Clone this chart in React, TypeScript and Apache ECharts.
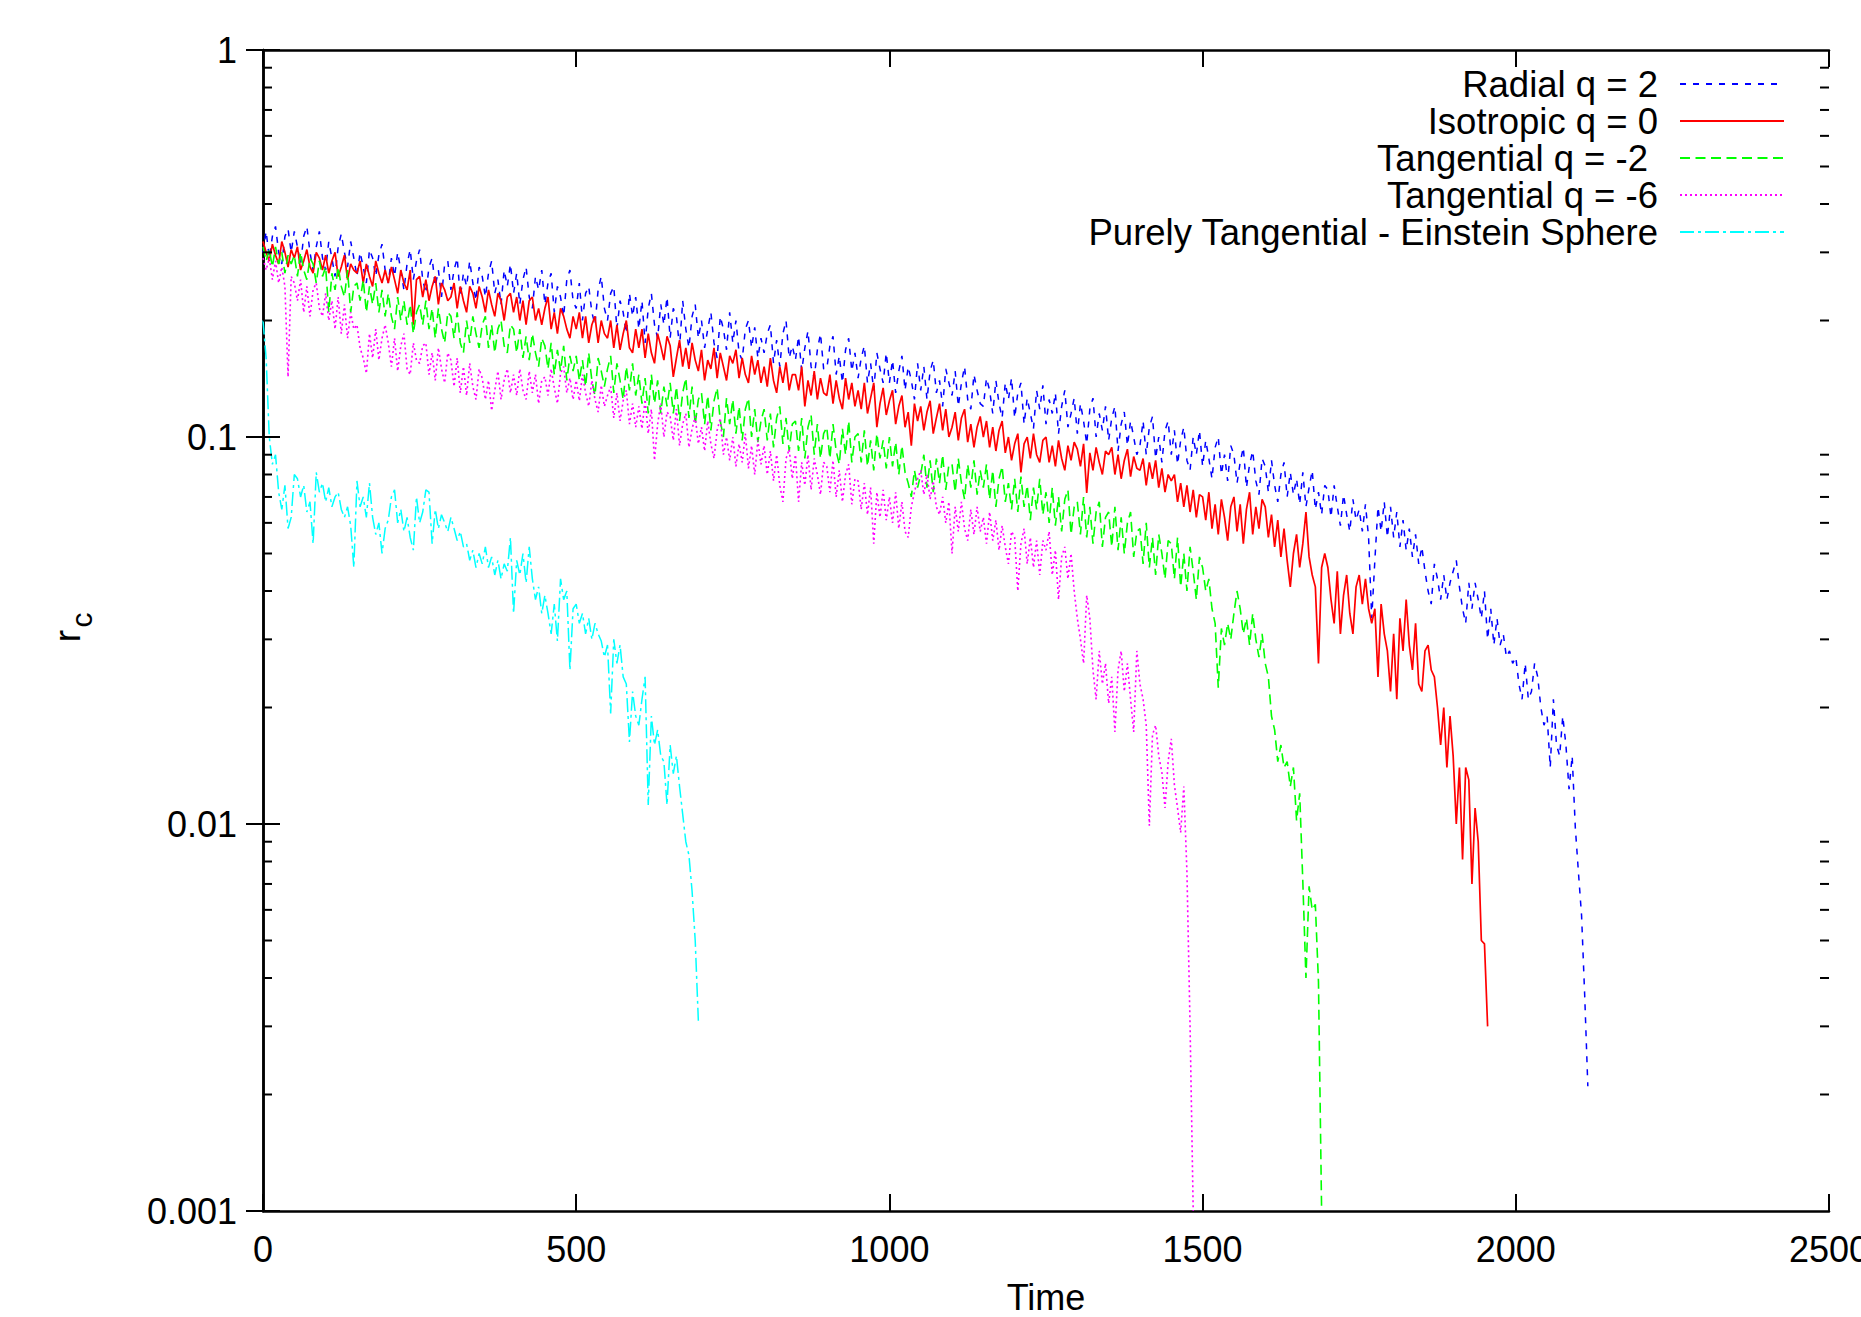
import React, { useEffect, useRef } from "react";
import * as echarts from "echarts";

// time step between stored samples (values below are at t = 0, 5, 10, ...)
const TIME_STEP = 5;

const seriesNames = [
  "Radial q = 2",
  "Isotropic q = 0",
  "Tangential q = -2",
  "Tangential q = -6",
  "Purely Tangential - Einstein Sphere",
];

const xTickLabels = ["0", "500", "1000", "1500", "2000", "2500"];
const yTickLabels = ["0.001", "0.01", "0.1", "1"];

// Radial q = 2
const radialQ2 = [
  0.30, 0.34, 0.29, 0.33, 0.35, 0.30, 0.28, 0.33, 0.345, 0.30,
  0.34, 0.31, 0.28, 0.33, 0.35, 0.30, 0.27, 0.31, 0.34, 0.29,
  0.27, 0.32, 0.29, 0.26, 0.31, 0.335, 0.30, 0.275, 0.32, 0.29,
  0.26, 0.30, 0.275, 0.25, 0.305, 0.29, 0.26, 0.295, 0.315, 0.27,
  0.25, 0.29, 0.26, 0.30, 0.27, 0.24, 0.28, 0.305, 0.255, 0.285,
  0.305, 0.255, 0.235, 0.275, 0.29, 0.245, 0.27, 0.23, 0.28, 0.285,
  0.24, 0.27, 0.29, 0.23, 0.265, 0.245, 0.285, 0.25, 0.225, 0.275,
  0.26, 0.23, 0.265, 0.285, 0.235, 0.255, 0.22, 0.27, 0.245, 0.28,
  0.235, 0.265, 0.22, 0.255, 0.275, 0.23, 0.215, 0.26, 0.24, 0.27,
  0.22, 0.25, 0.265, 0.21, 0.245, 0.23, 0.205, 0.255, 0.27, 0.225,
  0.215, 0.25, 0.2, 0.235, 0.245, 0.21, 0.195, 0.24, 0.26, 0.215,
  0.2, 0.235, 0.245, 0.19, 0.225, 0.21, 0.185, 0.235, 0.205, 0.23,
  0.19, 0.225, 0.175, 0.215, 0.235, 0.195, 0.18, 0.22, 0.195, 0.23,
  0.18, 0.215, 0.205, 0.17, 0.225, 0.19, 0.17, 0.205, 0.22, 0.18,
  0.2, 0.17, 0.19, 0.21, 0.175, 0.16, 0.205, 0.19, 0.168, 0.21,
  0.175, 0.2, 0.165, 0.158, 0.19, 0.2, 0.17, 0.192, 0.16, 0.18,
  0.165, 0.185, 0.195, 0.155, 0.178, 0.152, 0.185, 0.2, 0.16, 0.172,
  0.158, 0.182, 0.148, 0.17, 0.188, 0.152, 0.142, 0.168, 0.185, 0.15,
  0.15, 0.172, 0.182, 0.145, 0.162, 0.138, 0.168, 0.18, 0.148, 0.165,
  0.142, 0.16, 0.172, 0.138, 0.155, 0.132, 0.165, 0.15, 0.138, 0.165,
  0.138, 0.158, 0.13, 0.148, 0.162, 0.132, 0.152, 0.14, 0.125, 0.155,
  0.132, 0.152, 0.125, 0.148, 0.158, 0.13, 0.14, 0.12, 0.15, 0.138,
  0.128, 0.148, 0.12, 0.138, 0.152, 0.125, 0.118, 0.145, 0.132, 0.122,
  0.12, 0.142, 0.132, 0.115, 0.14, 0.122, 0.112, 0.138, 0.125, 0.142,
  0.112, 0.13, 0.138, 0.108, 0.126, 0.115, 0.105, 0.132, 0.118, 0.136,
  0.108, 0.125, 0.115, 0.13, 0.102, 0.12, 0.132, 0.106, 0.115, 0.126,
  0.102, 0.122, 0.11, 0.096, 0.118, 0.126, 0.1, 0.115, 0.104, 0.12,
  0.098, 0.112, 0.12, 0.092, 0.108, 0.116, 0.095, 0.11, 0.1, 0.09,
  0.095, 0.11, 0.09, 0.106, 0.113, 0.088, 0.1, 0.086, 0.104, 0.11,
  0.09, 0.104, 0.085, 0.098, 0.106, 0.087, 0.082, 0.1, 0.09, 0.104,
  0.084, 0.098, 0.088, 0.078, 0.094, 0.1, 0.08, 0.09, 0.077, 0.095,
  0.09, 0.076, 0.086, 0.094, 0.074, 0.085, 0.092, 0.077, 0.071, 0.088,
  0.084, 0.072, 0.087, 0.075, 0.068, 0.08, 0.086, 0.07, 0.081, 0.071,
  0.078, 0.067, 0.081, 0.066, 0.074, 0.082, 0.065, 0.072, 0.063, 0.075,
  0.073, 0.062, 0.075, 0.066, 0.059, 0.071, 0.063, 0.057, 0.069, 0.061,
  0.065, 0.057, 0.067, 0.055, 0.034, 0.048, 0.066, 0.057, 0.068, 0.055,
  0.066, 0.055, 0.064, 0.052, 0.061, 0.051, 0.058, 0.049, 0.056, 0.047,
  0.052, 0.045, 0.04, 0.037, 0.047, 0.043, 0.038, 0.044, 0.038, 0.042,
  0.045, 0.048, 0.041, 0.036, 0.033, 0.042, 0.036, 0.042, 0.038, 0.034,
  0.04, 0.03, 0.036, 0.029, 0.034, 0.029, 0.031, 0.027, 0.028, 0.026,
  0.027, 0.023, 0.021, 0.026, 0.021, 0.022, 0.026, 0.024, 0.02, 0.018,
  0.019, 0.014, 0.021, 0.016, 0.015, 0.019, 0.016, 0.0123, 0.015, 0.0098,
  0.0075, 0.0058, 0.0036, 0.0021,
];

// Isotropic q = 0
const isotropicQ0 = [
  0.32, 0.30, 0.285, 0.315, 0.295, 0.28, 0.32, 0.30, 0.275, 0.305,
  0.29, 0.31, 0.27, 0.285, 0.305, 0.275, 0.265, 0.30, 0.29, 0.27,
  0.295, 0.265, 0.285, 0.30, 0.26, 0.275, 0.295, 0.255, 0.28, 0.27,
  0.265, 0.285, 0.25, 0.28, 0.26, 0.245, 0.285, 0.265, 0.25, 0.27,
  0.25, 0.275, 0.255, 0.235, 0.27, 0.25, 0.24, 0.27, 0.195, 0.255,
  0.26, 0.23, 0.255, 0.225, 0.245, 0.26, 0.22, 0.25, 0.24, 0.225,
  0.23, 0.25, 0.215, 0.245, 0.225, 0.21, 0.245, 0.235, 0.215, 0.245,
  0.23, 0.21, 0.24, 0.22, 0.205, 0.235, 0.225, 0.2, 0.23, 0.235,
  0.21, 0.23, 0.2, 0.225, 0.195, 0.225, 0.23, 0.2, 0.215, 0.195,
  0.215, 0.23, 0.19, 0.21, 0.185, 0.215, 0.205, 0.19, 0.18, 0.205,
  0.19, 0.21, 0.18, 0.205, 0.175, 0.195, 0.205, 0.175, 0.2, 0.185,
  0.18, 0.2, 0.17, 0.195, 0.168, 0.185, 0.2, 0.17, 0.165, 0.19,
  0.17, 0.19, 0.16, 0.185, 0.165, 0.155, 0.185, 0.172, 0.158, 0.182,
  0.172, 0.143, 0.16, 0.178, 0.152, 0.17, 0.15, 0.175, 0.158, 0.148,
  0.168, 0.14, 0.158, 0.15, 0.17, 0.142, 0.165, 0.152, 0.14, 0.162,
  0.155, 0.168, 0.142, 0.16, 0.145, 0.138, 0.162, 0.145, 0.158, 0.138,
  0.152, 0.135, 0.16, 0.14, 0.13, 0.152, 0.138, 0.156, 0.132, 0.145,
  0.145, 0.132, 0.152, 0.12, 0.14, 0.128, 0.148, 0.125, 0.142, 0.13,
  0.128, 0.145, 0.122, 0.14, 0.126, 0.118, 0.142, 0.125, 0.138, 0.12,
  0.132, 0.118, 0.138, 0.115, 0.126, 0.138, 0.106, 0.122, 0.134, 0.114,
  0.124, 0.132, 0.108, 0.12, 0.128, 0.106, 0.116, 0.095, 0.122, 0.11,
  0.12, 0.104, 0.116, 0.124, 0.102, 0.112, 0.122, 0.104, 0.118, 0.1,
  0.106, 0.116, 0.098, 0.112, 0.118, 0.097, 0.108, 0.094, 0.106, 0.113,
  0.1, 0.11, 0.094, 0.106, 0.092, 0.104, 0.11, 0.091, 0.1, 0.087,
  0.096, 0.102, 0.081, 0.096, 0.1, 0.088, 0.102, 0.09, 0.086, 0.098,
  0.1, 0.086, 0.095, 0.084, 0.098, 0.088, 0.082, 0.095, 0.087, 0.097,
  0.093, 0.084, 0.096, 0.0717, 0.091, 0.082, 0.094, 0.086, 0.08, 0.092,
  0.09, 0.094, 0.08, 0.09, 0.078, 0.087, 0.093, 0.079, 0.089, 0.083,
  0.082, 0.088, 0.075, 0.086, 0.078, 0.087, 0.074, 0.083, 0.072, 0.08,
  0.077, 0.08, 0.068, 0.076, 0.066, 0.075, 0.064, 0.073, 0.062, 0.071,
  0.07, 0.061, 0.072, 0.058, 0.067, 0.056, 0.069, 0.062, 0.054, 0.066,
  0.07, 0.057, 0.067, 0.053, 0.065, 0.072, 0.056, 0.066, 0.058, 0.069,
  0.066, 0.055, 0.063, 0.052, 0.061, 0.049, 0.058, 0.048, 0.041, 0.05,
  0.056, 0.046, 0.053, 0.064, 0.049, 0.044, 0.041, 0.026, 0.046, 0.05,
  0.046, 0.038, 0.033, 0.045, 0.031, 0.039, 0.044, 0.035, 0.031, 0.041,
  0.044, 0.037, 0.043, 0.036, 0.033, 0.036, 0.024, 0.037, 0.031, 0.028,
  0.022, 0.031, 0.021, 0.034, 0.028, 0.038, 0.029, 0.025, 0.033, 0.023,
  0.022, 0.028, 0.029, 0.025, 0.024, 0.02, 0.016, 0.02, 0.014, 0.019,
  0.015, 0.01, 0.014, 0.0081, 0.014, 0.013, 0.007, 0.011, 0.009, 0.005,
  0.0049, 0.003,
];

// Tangential q = -2
const tangentialQm2 = [
  0.31, 0.285, 0.305, 0.275, 0.31, 0.28, 0.30, 0.265, 0.295, 0.28,
  0.295, 0.26, 0.30, 0.27, 0.255, 0.29, 0.28, 0.25, 0.285, 0.26,
  0.275, 0.21, 0.265, 0.24, 0.275, 0.245, 0.23, 0.27, 0.21, 0.245,
  0.25, 0.225, 0.255, 0.21, 0.245, 0.22, 0.25, 0.21, 0.24, 0.205,
  0.235, 0.205, 0.19, 0.23, 0.2, 0.225, 0.195, 0.22, 0.185, 0.21,
  0.22, 0.195, 0.225, 0.19, 0.215, 0.18, 0.215, 0.19, 0.175, 0.21,
  0.205, 0.18, 0.21, 0.175, 0.165, 0.2, 0.175, 0.205, 0.185, 0.17,
  0.195, 0.205, 0.17, 0.195, 0.165, 0.19, 0.2, 0.172, 0.165, 0.195,
  0.19, 0.165, 0.19, 0.16, 0.182, 0.158, 0.185, 0.165, 0.152, 0.18,
  0.172, 0.15, 0.175, 0.145, 0.168, 0.148, 0.172, 0.14, 0.162, 0.148,
  0.162, 0.14, 0.158, 0.135, 0.165, 0.14, 0.128, 0.16, 0.148, 0.135,
  0.15, 0.162, 0.13, 0.155, 0.14, 0.125, 0.152, 0.132, 0.155, 0.128,
  0.145, 0.122, 0.142, 0.115, 0.145, 0.122, 0.14, 0.115, 0.135, 0.12,
  0.138, 0.115, 0.135, 0.11, 0.13, 0.142, 0.112, 0.135, 0.108, 0.125,
  0.13, 0.108, 0.128, 0.104, 0.124, 0.134, 0.11, 0.1, 0.126, 0.108,
  0.125, 0.102, 0.12, 0.098, 0.118, 0.126, 0.1, 0.118, 0.097, 0.11,
  0.118, 0.098, 0.115, 0.094, 0.112, 0.12, 0.096, 0.112, 0.092, 0.108,
  0.11, 0.092, 0.112, 0.088, 0.106, 0.114, 0.09, 0.108, 0.088, 0.102,
  0.106, 0.088, 0.108, 0.092, 0.085, 0.105, 0.09, 0.11, 0.086, 0.1,
  0.102, 0.086, 0.104, 0.084, 0.098, 0.082, 0.102, 0.088, 0.098, 0.083,
  0.1, 0.084, 0.097, 0.08, 0.095, 0.081, 0.076, 0.07, 0.082, 0.074,
  0.08, 0.09, 0.074, 0.087, 0.072, 0.088, 0.076, 0.09, 0.073, 0.085,
  0.085, 0.072, 0.088, 0.076, 0.069, 0.085, 0.074, 0.087, 0.071, 0.082,
  0.074, 0.085, 0.069, 0.082, 0.066, 0.078, 0.084, 0.068, 0.076, 0.065,
  0.078, 0.064, 0.079, 0.066, 0.075, 0.061, 0.074, 0.065, 0.078, 0.063,
  0.072, 0.06, 0.074, 0.059, 0.07, 0.057, 0.069, 0.073, 0.056, 0.066,
  0.068, 0.056, 0.07, 0.055, 0.066, 0.053, 0.064, 0.068, 0.052, 0.062,
  0.064, 0.052, 0.066, 0.051, 0.062, 0.05, 0.06, 0.064, 0.049, 0.057,
  0.058, 0.047, 0.06, 0.046, 0.055, 0.044, 0.056, 0.05, 0.043, 0.054,
  0.053, 0.043, 0.055, 0.041, 0.05, 0.04, 0.052, 0.045, 0.038, 0.049,
  0.046, 0.04, 0.043, 0.036, 0.033, 0.0225, 0.032, 0.029, 0.033, 0.03,
  0.035, 0.04, 0.036, 0.031, 0.034, 0.029, 0.035, 0.03, 0.027, 0.031,
  0.026, 0.024, 0.019, 0.0175, 0.0145, 0.016, 0.014, 0.0145, 0.0125, 0.014,
  0.0102, 0.012, 0.0071, 0.004, 0.0069, 0.006, 0.0062, 0.0039, 0.001,
];

// Tangential q = -6
const tangentialQm6 = [
  0.29, 0.27, 0.29, 0.255, 0.285, 0.25, 0.275, 0.245, 0.143, 0.26,
  0.25, 0.225, 0.255, 0.21, 0.245, 0.205, 0.24, 0.25, 0.215, 0.205,
  0.235, 0.2, 0.225, 0.19, 0.23, 0.185, 0.22, 0.18, 0.21, 0.19,
  0.195, 0.17, 0.16, 0.146, 0.185, 0.16, 0.19, 0.158, 0.18, 0.195,
  0.175, 0.152, 0.18, 0.148, 0.172, 0.185, 0.15, 0.145, 0.175, 0.158,
  0.155, 0.172, 0.175, 0.145, 0.165, 0.14, 0.17, 0.15, 0.138, 0.165,
  0.158, 0.135, 0.16, 0.13, 0.152, 0.128, 0.155, 0.135, 0.125, 0.15,
  0.142, 0.125, 0.14, 0.117, 0.132, 0.148, 0.125, 0.14, 0.15, 0.13,
  0.145, 0.128, 0.15, 0.132, 0.125, 0.148, 0.13, 0.145, 0.122, 0.14,
  0.143, 0.128, 0.15, 0.134, 0.122, 0.146, 0.152, 0.13, 0.142, 0.125,
  0.14, 0.124, 0.145, 0.13, 0.12, 0.14, 0.125, 0.116, 0.136, 0.12,
  0.128, 0.135, 0.112, 0.13, 0.11, 0.124, 0.132, 0.108, 0.122, 0.106,
  0.12, 0.105, 0.125, 0.102, 0.118, 0.087, 0.108, 0.122, 0.1, 0.116,
  0.113, 0.098, 0.118, 0.095, 0.108, 0.115, 0.094, 0.105, 0.113, 0.096,
  0.106, 0.092, 0.11, 0.096, 0.088, 0.104, 0.112, 0.09, 0.1, 0.087,
  0.1, 0.084, 0.096, 0.086, 0.102, 0.083, 0.095, 0.08, 0.098, 0.085,
  0.095, 0.08, 0.092, 0.077, 0.09, 0.075, 0.068, 0.088, 0.093, 0.078,
  0.09, 0.068, 0.086, 0.075, 0.09, 0.073, 0.088, 0.08, 0.071, 0.086,
  0.084, 0.072, 0.087, 0.07, 0.082, 0.068, 0.08, 0.085, 0.067, 0.078,
  0.077, 0.065, 0.076, 0.063, 0.074, 0.053, 0.072, 0.062, 0.073, 0.061,
  0.07, 0.06, 0.072, 0.058, 0.068, 0.057, 0.055, 0.066, 0.072, 0.078,
  0.082, 0.071, 0.08, 0.069, 0.077, 0.066, 0.063, 0.07, 0.06, 0.068,
  0.05, 0.066, 0.057, 0.068, 0.058, 0.054, 0.065, 0.056, 0.066, 0.057,
  0.062, 0.053, 0.064, 0.054, 0.061, 0.051, 0.059, 0.052, 0.047, 0.057,
  0.055, 0.04, 0.053, 0.058, 0.047, 0.055, 0.046, 0.054, 0.044, 0.054,
  0.051, 0.057, 0.044, 0.051, 0.038, 0.049, 0.052, 0.043, 0.05, 0.04,
  0.034, 0.03, 0.026, 0.039, 0.034, 0.025, 0.021, 0.028, 0.023, 0.026,
  0.0205, 0.024, 0.0173, 0.025, 0.028, 0.022, 0.026, 0.021, 0.0173, 0.028,
  0.023, 0.021, 0.018, 0.0099, 0.017, 0.018, 0.015, 0.0136, 0.011, 0.0145,
  0.0166, 0.0126, 0.011, 0.0095, 0.0125, 0.0075, 0.003, 0.001,
];

// Purely Tangential - Einstein Sphere
const einsteinSphere = [
  0.2, 0.16, 0.1, 0.085, 0.09, 0.072, 0.065, 0.075, 0.058, 0.062,
  0.08, 0.078, 0.07, 0.075, 0.064, 0.068, 0.053, 0.081, 0.072, 0.076,
  0.068, 0.074, 0.066, 0.07, 0.072, 0.065, 0.062, 0.066, 0.059, 0.046,
  0.077, 0.066, 0.07, 0.062, 0.076, 0.062, 0.056, 0.06, 0.05, 0.058,
  0.061, 0.07, 0.073, 0.06, 0.065, 0.057, 0.062, 0.055, 0.051, 0.07,
  0.06, 0.064, 0.073, 0.072, 0.053, 0.065, 0.058, 0.063, 0.06, 0.057,
  0.062, 0.058, 0.054, 0.057, 0.052, 0.053, 0.048, 0.051, 0.046, 0.05,
  0.047, 0.052, 0.046, 0.049, 0.044, 0.048, 0.043, 0.047, 0.045, 0.055,
  0.035, 0.048, 0.044, 0.05, 0.042, 0.052, 0.043, 0.038, 0.041, 0.035,
  0.039, 0.035, 0.031, 0.037, 0.0297, 0.043, 0.038, 0.04, 0.025, 0.036,
  0.037, 0.033, 0.035, 0.031, 0.034, 0.03, 0.033, 0.031, 0.0297, 0.027,
  0.029, 0.0193, 0.03, 0.026, 0.029, 0.024, 0.023, 0.0163, 0.022, 0.019,
  0.018, 0.021, 0.024, 0.0112, 0.019, 0.016, 0.0175, 0.015, 0.0145, 0.0112,
  0.016, 0.0135, 0.015, 0.0125, 0.0106, 0.009, 0.0083, 0.0067, 0.005, 0.0031,
];

const seriesValues = [radialQ2, isotropicQ0, tangentialQm2, tangentialQm6, einsteinSphere];
const seriesColors = ["#0000ff", "#ff0000", "#00ff00", "#ff00ff", "#00ffff"];
const seriesDashes: (number[] | "solid")[] = [[6, 7], "solid", [10, 5.5], [2, 3], [14, 4, 3, 4]];
const seriesWidths = [1.5, 1.7, 1.6, 1.6, 1.5];

// log-axis minor ticks (2..9 in each decade)
const minorTickValues: number[] = [];
[0.001, 0.01, 0.1].forEach((d) => {
  [2, 3, 4, 5, 6, 7, 8, 9].forEach((m) => minorTickValues.push(+(m * d).toPrecision(3)));
});

const FONT = "Liberation Sans, Arial, sans-serif";

export default function App() {
  const ref = useRef<HTMLDivElement>(null);

  useEffect(() => {
    if (!ref.current) return;
    document.documentElement.style.overflow = "hidden";
    document.body.style.overflow = "hidden";
    document.body.style.margin = "0";
    const chart = echarts.init(ref.current, undefined, { renderer: "svg" });

    const axisLine = { show: true, lineStyle: { color: "#000", width: 2.5 } };
    const axisTick = { show: true, inside: true, length: 17, lineStyle: { color: "#000", width: 2 } };

    const lineSeries = seriesValues.map((vals, si) => ({
      name: seriesNames[si],
      type: "line",
      xAxisIndex: 0,
      yAxisIndex: 0,
      data: vals.map((v, i) => [i * TIME_STEP, v]),
      showSymbol: false,
      symbol: "none",
      clip: true,
      lineStyle: { color: seriesColors[si], width: seriesWidths[si], type: seriesDashes[si] },
      itemStyle: { color: seriesColors[si] },
      z: 2 + si,
    }));

    const minorTicks = {
      type: "custom",
      coordinateSystem: "cartesian2d",
      xAxisIndex: 0,
      yAxisIndex: 0,
      silent: true,
      clip: false,
      z: 10,
      data: minorTickValues.map((v) => [0, v]),
      renderItem: (params: any, api: any) => {
        const p = api.coord([0, api.value(1)]);
        const cs = params.coordSys;
        const st = { stroke: "#000", lineWidth: 2 };
        return {
          type: "group",
          children: [
            { type: "line", shape: { x1: cs.x, y1: p[1], x2: cs.x + 9, y2: p[1] }, style: st },
            { type: "line", shape: { x1: cs.x + cs.width, y1: p[1], x2: cs.x + cs.width - 9, y2: p[1] }, style: st },
          ],
        };
      },
    };

    const legendRowsY = [84, 121, 158, 195, 232];
    const legendTextRight = [1658, 1658, 1648, 1658, 1658];
    const graphics: any[] = [];
    seriesNames.forEach((name, i) => {
      graphics.push({
        type: "text",
        x: legendTextRight[i],
        y: legendRowsY[i],
        style: {
          text: name,
          fill: "#000",
          font: `36.5px ${FONT}`,
          textAlign: "right",
          textVerticalAlign: "middle",
        },
      });
      const dash = seriesDashes[i];
      graphics.push({
        type: "line",
        shape: { x1: 1680, y1: legendRowsY[i], x2: 1784, y2: legendRowsY[i] },
        style: {
          stroke: seriesColors[i],
          lineWidth: seriesWidths[i] + 0.3,
          lineDash: dash === "solid" ? null : dash,
        },
      });
    });

    // y-axis title r_c
    graphics.push({
      type: "text",
      x: 67,
      y: 636,
      rotation: Math.PI / 2,
      style: { text: "r", fill: "#000", font: `37px ${FONT}`, textAlign: "center", textVerticalAlign: "middle" },
    });
    graphics.push({
      type: "text",
      x: 81,
      y: 620,
      rotation: Math.PI / 2,
      style: { text: "c", fill: "#000", font: `30px ${FONT}`, textAlign: "center", textVerticalAlign: "middle" },
    });

    chart.setOption({
      animation: false,
      backgroundColor: "#ffffff",
      grid: {
        left: 263,
        right: 32,
        top: 50,
        bottom: 106,
        containLabel: false,
        outerBoundsMode: "none",
      },
      xAxis: [
        {
          type: "value",
          min: 0,
          max: 2500,
          interval: 500,
          position: "bottom",
          axisLine,
          axisTick,
          splitLine: { show: false },
          axisLabel: {
            color: "#000",
            fontSize: 36,
            fontFamily: FONT,
            margin: 20,
            formatter: (v: number) => xTickLabels[Math.round(v / 500)] ?? String(v),
          },
          name: "Time",
          nameLocation: "middle",
          nameGap: 68,
          nameTextStyle: { color: "#000", fontSize: 36, fontFamily: FONT },
        },
        {
          type: "value",
          min: 0,
          max: 2500,
          interval: 500,
          position: "top",
          axisLine,
          axisTick,
          splitLine: { show: false },
          axisLabel: { show: false },
        },
      ],
      yAxis: [
        {
          type: "log",
          logBase: 10,
          min: 0.001,
          max: 1,
          position: "left",
          axisLine,
          axisTick,
          splitLine: { show: false },
          minorTick: { show: false },
          axisLabel: {
            color: "#000",
            fontSize: 36,
            fontFamily: FONT,
            margin: 26,
            formatter: (v: number) => {
              const k = Math.round(Math.log10(v)) + 3;
              return yTickLabels[k] ?? String(v);
            },
          },
        },
        {
          type: "log",
          logBase: 10,
          min: 0.001,
          max: 1,
          position: "right",
          axisLine,
          axisTick,
          splitLine: { show: false },
          axisLabel: { show: false },
        },
      ],
      graphic: graphics,
      series: [...lineSeries, minorTicks],
    });

    return () => {
      chart.dispose();
    };
  }, []);

  return (
    <div
      ref={ref}
      style={{ position: "absolute", left: 0, top: 0, width: 1861, height: 1317, background: "#fff" }}
    />
  );
}
